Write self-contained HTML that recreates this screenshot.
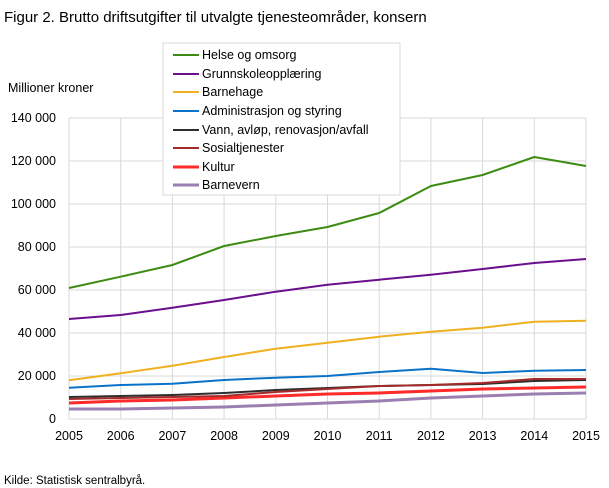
<!DOCTYPE html>
<html><head><meta charset="utf-8"><style>
body{margin:0;background:#fff;}
svg{display:block;font-family:"Liberation Sans","DejaVu Sans",sans-serif;}
</style></head><body>
<svg width="609" height="488" viewBox="0 0 609 488">
<text x="4" y="22" font-size="15" fill="#000">Figur 2. Brutto driftsutgifter til utvalgte tjenesteområder, konsern</text>
<text x="8" y="92" font-size="12.5" fill="#000">Millioner  kroner</text>
<g stroke="#d8d8d8" stroke-width="1">
<line x1="69" y1="118" x2="586" y2="118"/><line x1="69" y1="161" x2="586" y2="161"/>
<line x1="69" y1="204" x2="586" y2="204"/><line x1="69" y1="247" x2="586" y2="247"/>
<line x1="69" y1="290" x2="586" y2="290"/><line x1="69" y1="333" x2="586" y2="333"/>
<line x1="69" y1="376" x2="586" y2="376"/><line x1="69" y1="419" x2="586" y2="419"/>
<line x1="69" y1="118" x2="69" y2="419"/><line x1="120.7" y1="118" x2="120.7" y2="419"/>
<line x1="172.4" y1="118" x2="172.4" y2="419"/><line x1="224.1" y1="118" x2="224.1" y2="419"/>
<line x1="275.8" y1="118" x2="275.8" y2="419"/><line x1="327.5" y1="118" x2="327.5" y2="419"/>
<line x1="379.2" y1="118" x2="379.2" y2="419"/><line x1="430.9" y1="118" x2="430.9" y2="419"/>
<line x1="482.6" y1="118" x2="482.6" y2="419"/><line x1="534.3" y1="118" x2="534.3" y2="419"/>
<line x1="586" y1="118" x2="586" y2="419"/>
</g>
<g font-size="12.5" fill="#000" text-anchor="end">
<text x="56" y="122">140 000</text><text x="56" y="165">120 000</text><text x="56" y="208">100 000</text>
<text x="56" y="251">80 000</text><text x="56" y="294">60 000</text><text x="56" y="337">40 000</text>
<text x="56" y="380">20 000</text><text x="56" y="423">0</text>
</g>
<g font-size="12.5" fill="#000" text-anchor="middle">
<text x="69" y="440">2005</text><text x="120.7" y="440">2006</text><text x="172.4" y="440">2007</text>
<text x="224.1" y="440">2008</text><text x="275.8" y="440">2009</text><text x="327.5" y="440">2010</text>
<text x="379.2" y="440">2011</text><text x="430.9" y="440">2012</text><text x="482.6" y="440">2013</text>
<text x="534.3" y="440">2014</text><text x="586" y="440">2015</text>
</g>
<g fill="none" stroke-linejoin="round">
<polyline stroke="#9b7fb0" stroke-width="3" points="69,409 120.7,409 172.4,408 224.1,407 275.8,405 327.5,403 379.2,401 430.9,398 482.6,396 534.3,394 586,393"/>
<polyline stroke="#ff2a2a" stroke-width="3" points="69,403 120.7,401 172.4,400 224.1,398 275.8,396 327.5,394 379.2,393 430.9,391 482.6,389 534.3,388 586,387"/>
<polyline stroke="#2e2e2e" stroke-width="2" points="69,397 120.7,396 172.4,395 224.1,393 275.8,390 327.5,388 379.2,386 430.9,385 482.6,384 534.3,381 586,380"/>
<polyline stroke="#a52a2a" stroke-width="2" points="69,399 120.7,398 172.4,397 224.1,396 275.8,392 327.5,389 379.2,386 430.9,385 482.6,383 534.3,379 586,379"/>
<polyline stroke="#0b72c9" stroke-width="2" points="69,387.7 120.7,385 172.4,383.7 224.1,380 275.8,377.7 327.5,376 379.2,372 430.9,368.7 482.6,373 534.3,370.7 586,370"/>
<polyline stroke="#f0b020" stroke-width="2" points="69,380.3 120.7,373.3 172.4,365.7 224.1,357 275.8,348.7 327.5,342.7 379.2,336.7 430.9,331.7 482.6,327.7 534.3,321.7 586,320.7"/>
<polyline stroke="#6a0f8e" stroke-width="2" points="69,319 120.7,315 172.4,307.7 224.1,300 275.8,291.7 327.5,284.7 379.2,279.7 430.9,274.7 482.6,269 534.3,263 586,259"/>
<polyline stroke="#3d8b12" stroke-width="2" points="69,288 120.7,276.7 172.4,265 224.1,246 275.8,236 327.5,227 379.2,213 430.9,186 482.6,175 534.3,157 586,166"/>
</g>
<rect x="163" y="43" width="237" height="152" fill="#fff" stroke="#d8d8d8"/>
<g stroke-width="2">
<line x1="173" y1="55" x2="199" y2="55" stroke="#3d8b12"/>
<line x1="173" y1="74" x2="199" y2="74" stroke="#6a0f8e"/>
<line x1="173" y1="92" x2="199" y2="92" stroke="#f0b020"/>
<line x1="173" y1="111" x2="199" y2="111" stroke="#0b72c9"/>
<line x1="173" y1="130" x2="199" y2="130" stroke="#2e2e2e"/>
<line x1="173" y1="148" x2="199" y2="148" stroke="#a52a2a"/>
<line x1="173" y1="167" x2="199" y2="167" stroke="#ff2a2a" stroke-width="3"/>
<line x1="173" y1="185" x2="199" y2="185" stroke="#9b7fb0" stroke-width="3"/>
</g>
<g font-size="12.5" fill="#000">
<text x="202" y="59">Helse og omsorg</text>
<text x="202" y="78">Grunnskoleopplæring</text>
<text x="202" y="96">Barnehage</text>
<text x="202" y="115">Administrasjon og styring</text>
<text x="202" y="134">Vann, avløp, renovasjon/avfall</text>
<text x="202" y="152">Sosialtjenester</text>
<text x="202" y="171">Kultur</text>
<text x="202" y="189">Barnevern</text>
</g>
<text x="4" y="484" font-size="11.5" fill="#000">Kilde: Statistisk sentralbyrå.</text>
</svg>
</body></html>
